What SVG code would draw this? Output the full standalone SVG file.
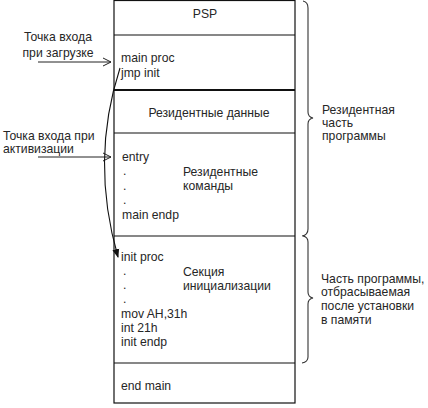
<svg xmlns="http://www.w3.org/2000/svg" width="428" height="408" viewBox="0 0 428 408">
<style>
text{font-family:"Liberation Sans",Arial,sans-serif;font-size:12.2px;fill:#262626}
.ln{stroke:#111;stroke-width:1.2;fill:none}
.thick{stroke:#111;stroke-width:2.2;fill:none}
.br{stroke:#333;stroke-width:1.1;fill:none}
</style>
<defs>
<marker id="open" markerWidth="10" markerHeight="10" refX="9" refY="5" orient="auto" markerUnits="userSpaceOnUse">
<path d="M1,1 L9,5 L1,9" fill="none" stroke="#222" stroke-width="1"/>
</marker>
<marker id="fill" markerWidth="10" markerHeight="10" refX="8" refY="5" orient="auto" markerUnits="userSpaceOnUse">
<path d="M0,1.5 L9,5 L0,8.5 Z" fill="#111"/>
</marker>
</defs>
<rect x="0" y="0" width="428" height="408" fill="#fff"/>
<g id="memory-box">
<rect x="114" y="0.5" width="181" height="402.5" class="ln"/>
</g>
<g id="psp">
<text x="205" y="18" text-anchor="middle">PSP</text>
<line x1="114" y1="35" x2="295" y2="35" class="ln"/>
</g>
<g id="main-proc">
<text x="121" y="62">main proc</text>
<text x="121" y="77">jmp init</text>
<line x1="114" y1="90" x2="295" y2="90" class="thick"/>
</g>
<g id="res-data">
<text x="209" y="117" text-anchor="middle">Резидентные данные</text>
<line x1="114" y1="133" x2="295" y2="133" class="ln"/>
</g>
<g id="res-cmds">
<text x="122" y="161">entry</text>
<text x="123" y="175">.</text>
<text x="123" y="190">.</text>
<text x="123" y="204">.</text>
<text x="122" y="219">main endp</text>
<text x="183" y="176">Резидентные</text>
<text x="183" y="190">команды</text>
<line x1="114" y1="236" x2="295" y2="236" class="ln"/>
</g>
<g id="init-section">
<text x="121" y="261">init proc</text>
<text x="123" y="275">.</text>
<text x="123" y="289">.</text>
<text x="123" y="303">.</text>
<text x="121" y="318">mov AH,31h</text>
<text x="121" y="332">int 21h</text>
<text x="121" y="346">init endp</text>
<text x="183" y="276">Секция</text>
<text x="183" y="290">инициализации</text>
<line x1="114" y1="363" x2="295" y2="363" class="ln"/>
</g>
<g id="end-main">
<text x="121" y="390">end main</text>
</g>
<g id="label-load">
<text x="58" y="41" text-anchor="middle">Точка входа</text>
<text x="58" y="57" text-anchor="middle">при загрузке</text>
</g>
<g id="label-activate">
<text x="3" y="140">Точка входа при</text>
<text x="3" y="153">активизации</text>
</g>
<g id="label-resident">
<path class="br" d="M303,1 Q308,2 308,8 L308,112 Q308,117 313,118 Q308,119 308,124 L308,229 Q308,235 302,236"/>
<text x="322" y="114">Резидентная</text>
<text x="322" y="127">часть</text>
<text x="322" y="140">программы</text>
</g>
<g id="label-discard">
<path class="br" d="M303,236 Q308,237 308,242 L308,292 Q308,297 313,298 Q308,299 308,304 L308,357 Q308,362 302,363"/>
<text x="321" y="283">Часть программы,</text>
<text x="321" y="296">отбрасываемая</text>
<text x="321" y="310">после установки</text>
<text x="321" y="324">в памяти</text>
</g>
<g id="connectors">
<line x1="38" y1="62" x2="111" y2="62" stroke="#222" stroke-width="1" marker-end="url(#open)"/>
<line x1="38" y1="157" x2="111" y2="157" stroke="#222" stroke-width="1" marker-end="url(#open)"/>
<path d="M120,68 Q90,160 118,257" fill="none" stroke="#111" stroke-width="1.1" marker-end="url(#fill)"/>
</g>
</svg>
